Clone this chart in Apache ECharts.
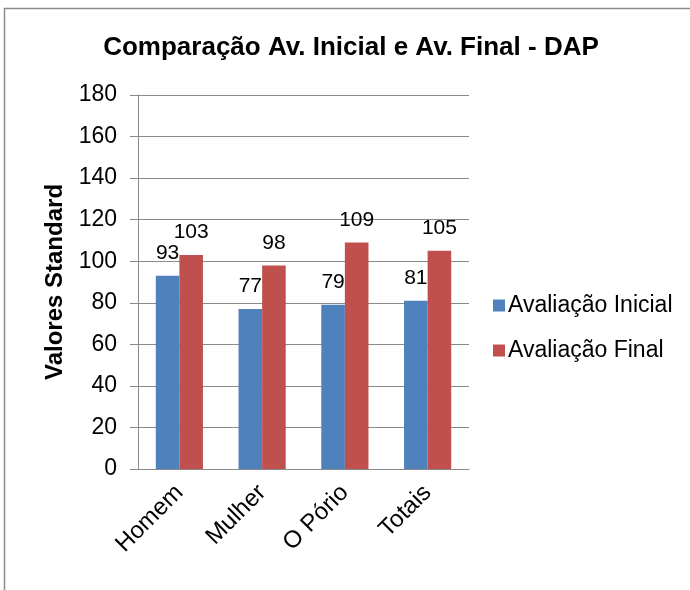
<!DOCTYPE html>
<html>
<head>
<meta charset="utf-8">
<script src="https://cdn.jsdelivr.net/npm/echarts@6/dist/echarts.min.js"></script>
<style>
  html, body { margin: 0; padding: 0; background: #ffffff; }
  #chart { width: 690px; height: 590px; }
</style>
</head>
<body>
<div id="chart"></div>
<script>
// Categories and series values
const categories = ['Homem', 'Mulher', 'O Pório', 'Totais'];
const avaliacaoInicial = [93, 77, 79, 81];
const avaliacaoFinal = [103, 98, 109, 105];
const seriesNames = ['Avaliação Inicial', 'Avaliação Final'];

// Value axis range
const yMin = 0;
const yMax = 180;
const yStep = 20;

const FONT = 'Liberation Sans, Arial, sans-serif';
const GRID_GREY = '#8a8a8a';

const chart = echarts.init(document.getElementById('chart'), null, { renderer: 'canvas' });

const labelStyle = {
  show: true,
  position: 'top',
  distance: 12,
  color: '#000',
  fontFamily: FONT,
  fontSize: 21
};

chart.setOption({
  backgroundColor: '#ffffff',
  animation: false,
  graphic: [{
    type: 'rect',
    shape: { x: 4.5, y: 8.5, width: 800, height: 800 },
    style: { fill: 'none', stroke: '#8c8c8c', lineWidth: 1.5 },
    silent: true
  }],
  title: {
    text: 'Comparação Av. Inicial e Av. Final - DAP',
    left: 346,
    textAlign: 'center',
    top: 30,
    textStyle: { fontFamily: FONT, fontSize: 26, fontWeight: 'bold', color: '#000' }
  },
  legend: {
    orient: 'vertical',
    left: 488,
    top: 289,
    itemWidth: 12,
    itemHeight: 12,
    itemGap: 22,
    icon: 'rect',
    textStyle: { fontFamily: FONT, fontSize: 23, color: '#000', padding: [0, 0, 0, -2] },
    data: seriesNames
  },
  grid: { left: 138, right: 221, top: 95, bottom: 121, containLabel: false },
  xAxis: {
    type: 'category',
    data: categories,
    axisLine: { show: true, lineStyle: { color: GRID_GREY, width: 1 } },
    axisTick: { show: false },
    axisLabel: {
      rotate: 45,
      margin: 20,
      color: '#000',
      fontFamily: FONT,
      fontSize: 24,
      interval: 0
    }
  },
  yAxis: {
    type: 'value',
    min: yMin,
    max: yMax,
    interval: yStep,
    name: 'Valores Standard',
    nameLocation: 'middle',
    nameGap: 71,
    nameRotate: 90,
    nameTextStyle: { fontFamily: FONT, fontSize: 24, fontWeight: 'bold', color: '#000' },
    axisLine: { show: true, lineStyle: { color: GRID_GREY, width: 1 } },
    axisTick: { show: true, inside: false, length: 8, lineStyle: { color: GRID_GREY } },
    splitLine: { show: true, lineStyle: { color: GRID_GREY, width: 1 } },
    axisLabel: { margin: 21, color: '#000', fontFamily: FONT, fontSize: 23 }
  },
  series: [
    {
      name: seriesNames[0],
      type: 'bar',
      data: avaliacaoInicial,
      barGap: '0%',
      barCategoryGap: '43%',
      itemStyle: { color: '#4F81BD' },
      label: labelStyle
    },
    {
      name: seriesNames[1],
      type: 'bar',
      data: avaliacaoFinal,
      barGap: '0%',
      barCategoryGap: '43%',
      itemStyle: { color: '#C0504D' },
      label: labelStyle
    }
  ]
});
</script>
</body>
</html>
